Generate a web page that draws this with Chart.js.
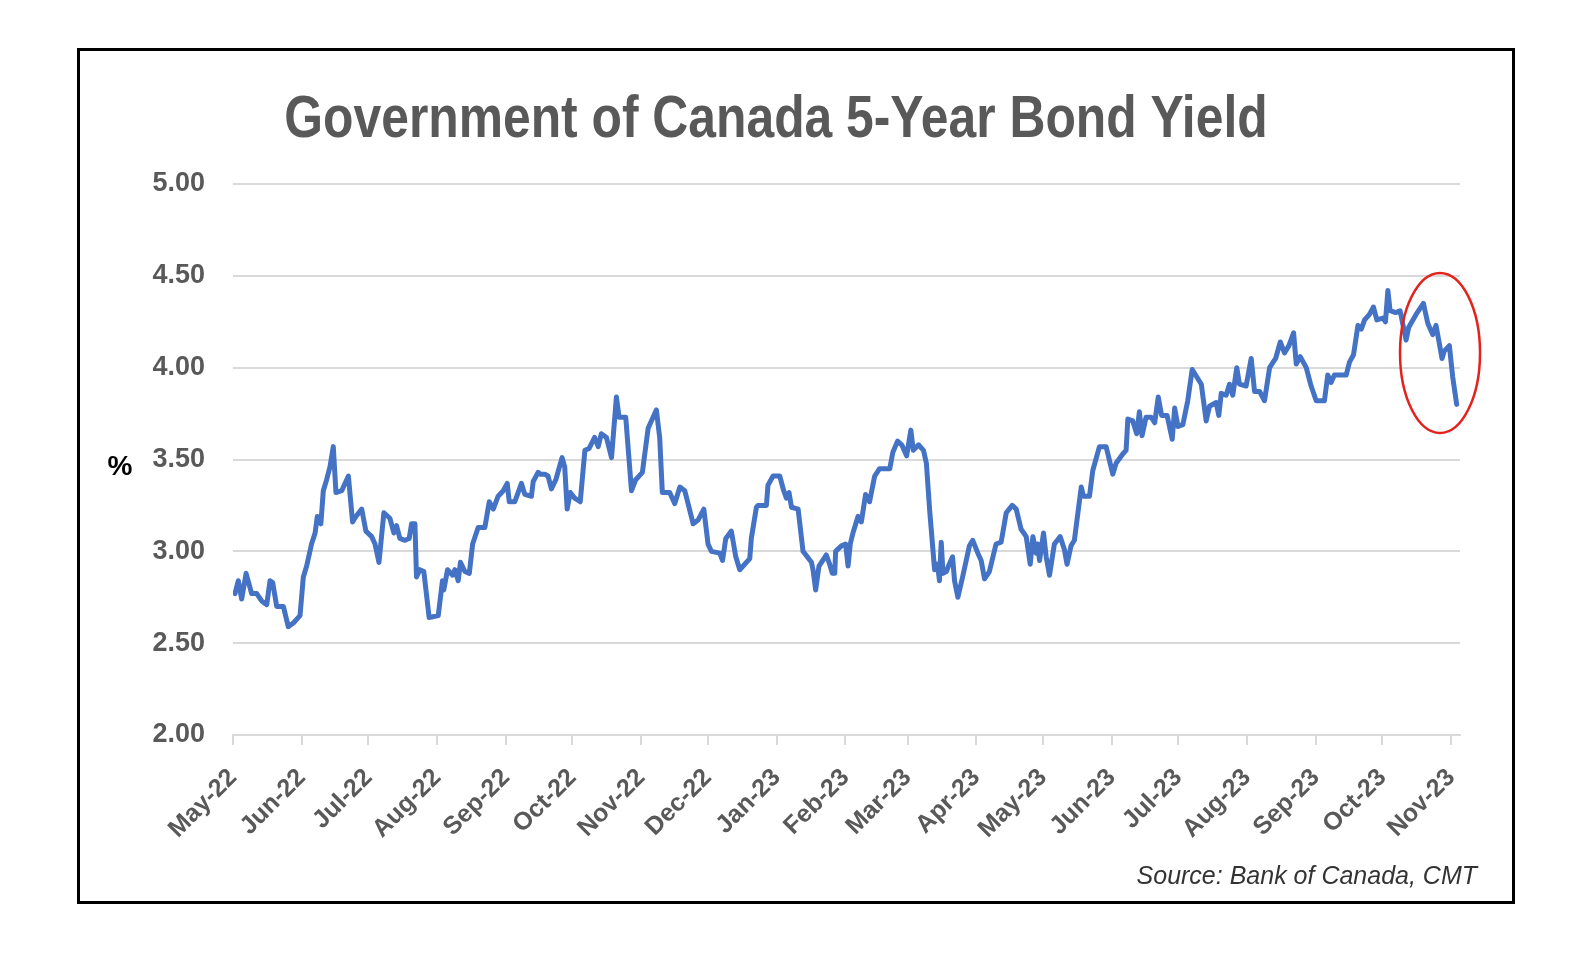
<!DOCTYPE html>
<html>
<head>
<meta charset="utf-8">
<title>Government of Canada 5-Year Bond Yield</title>
<script src="https://cdn.jsdelivr.net/npm/chart.js@4.4.0/dist/chart.umd.min.js"></script>
<style>
    html, body { margin: 0; padding: 0; background: #fff; }
    #frame {
        position: absolute;
        left: 77px;
        top: 48px;
        width: 1438px;
        height: 856px;
        border: 3px solid #000;
        box-sizing: border-box;
        background: #fff;
    }
</style>
</head>
<body>
<div id="frame">
    <canvas id="yieldChart" width="1432" height="850"></canvas>
</div>
<script>
// Axis: days counted from 1 May 2022
const monthLabels = ['May-22', 'Jun-22', 'Jul-22', 'Aug-22', 'Sep-22', 'Oct-22', 'Nov-22', 'Dec-22',
    'Jan-23', 'Feb-23', 'Mar-23', 'Apr-23', 'May-23', 'Jun-23', 'Jul-23', 'Aug-23', 'Sep-23', 'Oct-23', 'Nov-23'];
const monthDays = [0, 31, 61, 92, 123, 153, 184, 214, 245, 276, 304, 335, 365, 396, 426, 457, 488, 518, 549];

// 5-year yield (%)
const yieldDays = [
    0.9, 2.4, 3.9, 5.9, 8.4, 10.7, 12.9, 15.2, 16.7, 17.9, 19.7, 22.7, 24.9, 27.2, 30.2, 31.7, 33.2, 35.4, 37.0, 38.0,
    39.6, 40.7, 42.2, 43.7, 45.2, 46.4, 49.0, 52.0, 53.9, 55.4, 58.0, 59.9, 62.5, 64.0, 65.8, 68.0, 70.7, 72.5, 73.7, 75.2,
    77.5, 79.4, 80.5, 82.0, 82.7, 84.2, 86.0, 88.4, 92.5, 94.4, 95.0, 96.7, 99.0, 100.0, 101.5, 102.5, 104.5, 106.5, 108.0, 110.5,
    113.5, 115.5, 117.3, 119.5, 121.8, 123.6, 124.5, 127.0, 128.5, 130.0, 131.5, 134.5, 135.3, 137.5, 138.6, 140.5, 142.0, 143.5, 145.5, 148.3,
    149.5, 150.6, 152.0, 154.0, 156.5, 158.6, 160.5, 163.0, 164.6, 166.0, 168.3, 170.6, 172.8, 174.0, 177.0, 179.6, 181.5, 184.5, 187.1, 190.8,
    192.3, 193.5, 196.8, 199.1, 201.4, 203.6, 205.1, 207.4, 209.6, 212.2, 214.1, 215.6, 219.4, 220.6, 222.1, 224.6, 226.6, 228.4, 232.9, 233.6,
    235.9, 236.6, 240.4, 241.1, 243.4, 246.4, 248.2, 249.4, 250.6, 251.7, 254.7, 256.9, 260.7, 261.4, 262.6, 264.1, 267.4, 268.9, 270.1, 271.2,
    271.6, 274.2, 276.1, 277.2, 278.2, 279.4, 281.7, 283.2, 285.1, 286.9, 289.2, 291.4, 296.0, 297.4, 299.5, 301.4, 303.6, 305.5, 306.6, 309.0,
    311.2, 312.5, 314.0, 315.1, 316.2, 317.5, 318.4, 319.2, 320.0, 321.5, 322.8, 324.3, 325.2, 326.7, 329.0, 331.9, 333.4, 335.7, 337.2, 338.7,
    340.9, 343.9, 346.2, 348.5, 351.2, 353.0, 355.2, 357.5, 359.3, 360.5, 362.0, 362.7, 363.5, 365.3, 366.5, 368.0, 370.2, 372.8, 374.7, 375.9,
    377.7, 379.2, 382.3, 383.3, 386.0, 387.5, 390.5, 393.5, 396.5, 398.0, 401.0, 402.5, 403.3, 405.5, 407.3, 408.5, 409.7, 411.5, 413.8, 415.4,
    417.0, 418.5, 421.0, 423.3, 424.4, 425.9, 428.1, 430.3, 432.3, 436.4, 438.6, 440.1, 443.1, 444.3, 445.4, 447.6, 449.1, 450.6, 452.4, 453.6,
    456.6, 458.9, 460.4, 462.7, 464.9, 467.2, 469.9, 472.0, 473.9, 475.9, 478.0, 479.2, 481.0, 483.7, 485.9, 488.2, 491.9, 493.4, 494.9, 496.4,
    501.7, 503.2, 505.0, 507.0, 508.5, 510.0, 512.2, 514.0, 515.5, 518.2, 519.4, 520.5, 521.5, 524.0, 526.0, 528.7, 529.9, 533.2, 536.5, 538.5,
    540.7, 542.2, 544.9, 545.9, 548.2, 549.7, 551.5
];
const yieldValues = [
    2.77, 2.84, 2.74, 2.88, 2.77, 2.77, 2.73, 2.71, 2.84, 2.83, 2.70, 2.70, 2.59, 2.61, 2.65, 2.86, 2.92, 3.04, 3.10, 3.19,
    3.15, 3.33, 3.39, 3.46, 3.57, 3.32, 3.33, 3.41, 3.16, 3.19, 3.23, 3.11, 3.08, 3.04, 2.94, 3.21, 3.18, 3.10, 3.14, 3.07,
    3.06, 3.07, 3.15, 3.15, 2.86, 2.90, 2.89, 2.64, 2.65, 2.84, 2.79, 2.90, 2.87, 2.90, 2.84, 2.94, 2.89, 2.88, 3.04, 3.13,
    3.13, 3.27, 3.23, 3.30, 3.33, 3.37, 3.27, 3.27, 3.32, 3.37, 3.31, 3.30, 3.38, 3.43, 3.42, 3.42, 3.41, 3.34, 3.39, 3.51,
    3.46, 3.23, 3.32, 3.29, 3.27, 3.55, 3.56, 3.62, 3.57, 3.64, 3.62, 3.51, 3.84, 3.73, 3.73, 3.33, 3.39, 3.43, 3.67, 3.77,
    3.62, 3.32, 3.32, 3.26, 3.35, 3.33, 3.26, 3.15, 3.17, 3.23, 3.04, 3.00, 2.99, 2.95, 3.07, 3.11, 2.97, 2.90, 2.96, 3.07,
    3.24, 3.25, 3.25, 3.36, 3.41, 3.41, 3.33, 3.29, 3.32, 3.24, 3.23, 3.00, 2.94, 2.90, 2.79, 2.92, 2.98, 2.93, 2.88, 2.88,
    3.00, 3.03, 3.04, 2.92, 3.04, 3.10, 3.19, 3.16, 3.31, 3.27, 3.41, 3.45, 3.45, 3.54, 3.60, 3.58, 3.52, 3.66, 3.55, 3.58,
    3.55, 3.48, 3.22, 3.06, 2.90, 2.93, 2.84, 3.05, 2.88, 2.89, 2.93, 2.97, 2.84, 2.75, 2.87, 3.03, 3.06, 2.99, 2.95, 2.85,
    2.89, 3.04, 3.05, 3.21, 3.25, 3.23, 3.12, 3.08, 2.93, 3.08, 2.99, 3.04, 2.95, 3.10, 2.97, 2.87, 3.04, 3.08, 3.01, 2.93,
    3.03, 3.06, 3.35, 3.30, 3.30, 3.44, 3.57, 3.57, 3.42, 3.48, 3.53, 3.55, 3.72, 3.71, 3.64, 3.76, 3.63, 3.73, 3.73, 3.70,
    3.84, 3.74, 3.74, 3.61, 3.78, 3.68, 3.69, 3.82, 3.99, 3.91, 3.71, 3.79, 3.81, 3.74, 3.86, 3.85, 3.91, 3.85, 4.00, 3.91,
    3.90, 4.05, 3.87, 3.87, 3.82, 4.00, 4.05, 4.14, 4.08, 4.12, 4.19, 4.02, 4.06, 4.00, 3.90, 3.82, 3.82, 3.96, 3.92, 3.96,
    3.96, 4.03, 4.07, 4.23, 4.21, 4.26, 4.29, 4.33, 4.26, 4.27, 4.25, 4.42, 4.31, 4.30, 4.31, 4.15, 4.22, 4.29, 4.35, 4.24,
    4.18, 4.23, 4.05, 4.09, 4.12, 3.95, 3.80
];

const yTicksMin = 2;
const yTicksMax = 5;
const yTickStep = 0.5;

const titleText = 'Government of Canada 5-Year Bond Yield';
const sourceText = 'Source: Bank of Canada, CMT';

// Circle drawn round the recent drop (centre in data units)
const highlightDay = 544;
const highlightValue = 4.08;

document.addEventListener('DOMContentLoaded', function() {
    initYieldChart();
});

// Title, "%" and source note, plus the red ellipse
const decorations = {
    id: 'decorations',
    afterDatasetsDraw(chart) {
        const ctx = chart.ctx;
        const xs = chart.scales.x;
        const ys = chart.scales.y;

        ctx.save();
        ctx.strokeStyle = '#E3221C';
        ctx.lineWidth = 2.5;
        ctx.beginPath();
        ctx.ellipse(xs.getPixelForValue(highlightDay), ys.getPixelForValue(highlightValue), 40, 80, 0, 0, Math.PI * 2);
        ctx.stroke();
        ctx.restore();
    },
    afterDraw(chart) {
        const ctx = chart.ctx;
        const area = chart.chartArea;
        const ys = chart.scales.y;

        // condensed bold title: squeeze a regular bold face sideways
        ctx.save();
        ctx.fillStyle = '#595959';
        ctx.font = 'bold 60px "Liberation Sans", Arial, sans-serif';
        ctx.textAlign = 'center';
        ctx.textBaseline = 'alphabetic';
        ctx.translate(696, 86);
        ctx.scale(0.83, 1);
        ctx.fillText(titleText, 0, 0);
        ctx.restore();

        ctx.save();
        ctx.fillStyle = '#000';
        ctx.font = 'bold 28px "Liberation Sans", Arial, sans-serif';
        ctx.textAlign = 'center';
        ctx.textBaseline = 'middle';
        ctx.fillText('%', area.left - 113, ys.getPixelForValue(3.5) + 8);

        ctx.fillStyle = '#333';
        ctx.font = 'italic 25px "Liberation Sans", Arial, sans-serif';
        ctx.textAlign = 'right';
        ctx.fillText(sourceText, chart.width - 35, area.bottom + 142);
        ctx.restore();
    }
};

function initYieldChart() {
    const canvas = document.getElementById('yieldChart');
    if (!canvas) return;

    const points = yieldDays.map((d, i) => ({ x: d, y: yieldValues[i] }));
    const labelFont = { family: '"Liberation Sans", Arial, sans-serif', weight: 'bold' };

    new Chart(canvas.getContext('2d'), {
        type: 'line',
        data: {
            datasets: [{
                label: '5-Year Bond Yield',
                data: points,
                borderColor: '#4472C4',
                borderWidth: 5,
                borderJoinStyle: 'round',
                borderCapStyle: 'round',
                pointRadius: 0,
                tension: 0,
                fill: false
            }]
        },
        options: {
            responsive: false,
            animation: false,
            layout: {
                padding: { top: 133, right: 52, left: 0, bottom: 0 }
            },
            plugins: {
                legend: { display: false },
                tooltip: { enabled: false },
                title: { display: false }
            },
            scales: {
                x: {
                    type: 'linear',
                    min: 0,
                    max: 553,
                    afterBuildTicks: function(scale) {
                        scale.ticks = monthDays.map(v => ({ value: v }));
                    },
                    afterFit: function(scale) {
                        scale.height = 166;
                    },
                    ticks: {
                        autoSkip: false,
                        minRotation: 45,
                        maxRotation: 45,
                        padding: 18,
                        color: '#595959',
                        font: Object.assign({ size: 25 }, labelFont),
                        callback: function(value, index) {
                            return monthLabels[index];
                        }
                    },
                    grid: {
                        display: true,
                        drawOnChartArea: false,
                        drawTicks: true,
                        tickLength: 10,
                        color: '#d9d9d9',
                        lineWidth: 2
                    },
                    border: { display: true, color: '#d9d9d9', width: 2 }
                },
                y: {
                    min: yTicksMin,
                    max: yTicksMax,
                    afterFit: function(scale) {
                        scale.width = 153;
                    },
                    ticks: {
                        stepSize: yTickStep,
                        padding: 28,
                        color: '#595959',
                        font: Object.assign({ size: 27 }, labelFont),
                        callback: function(value) {
                            return value.toFixed(2);
                        }
                    },
                    grid: {
                        color: '#d9d9d9',
                        lineWidth: 2,
                        drawTicks: false
                    },
                    border: { display: false }
                }
            }
        },
        plugins: [decorations]
    });
}
</script>
</body>
</html>
